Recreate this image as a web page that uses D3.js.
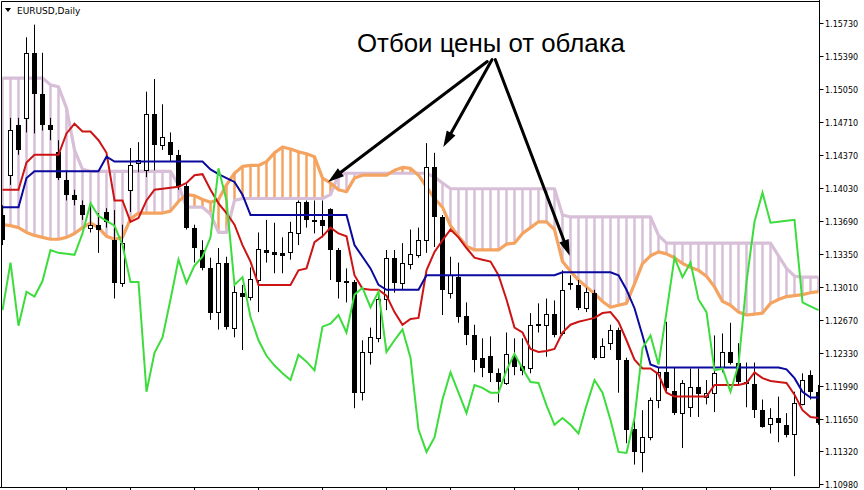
<!DOCTYPE html>
<html><head><meta charset="utf-8">
<script src="https://cdn.jsdelivr.net/npm/d3@7"></script>
<style>body{margin:0;background:#fff}svg{display:block}</style>
</head><body>
<svg id="c" width="864" height="490"></svg>
<script>
const symbolTitle = "EURUSD,Daily";
const annotationText = "Отбои цены от облака";
const priceTicks = [1.15730,1.15390,1.15050,1.14710,1.14370,1.14030,1.13690,1.13350,1.13010,1.12670,1.12330,1.11990,1.11650,1.11320,1.10980];
const timeTicks = [8,16,24,32,40,48,56,64,72,80,88,96];

const open = [1.1375,1.1416,1.1468,1.1475,1.1542,1.1500,1.1468,1.1440,1.1411,1.1396,
1.1385,1.1362,1.1365,1.1378,1.1349,1.1305,1.1401,1.1429,1.1421,1.1479,
1.1447,1.1450,1.1437,1.1405,1.1362,1.1339,1.1320,1.1275,1.1326,1.1259,
1.1295,1.1291,1.1308,1.1339,1.1337,1.1336,1.1337,1.1356,1.1388,1.1370,
1.1370,1.1381,1.1339,1.1307,1.1306,1.1193,1.1234,1.1248,1.1289,1.1331,
1.1305,1.1325,1.1334,1.1349,1.1424,1.1373,1.1295,1.1311,1.1271,1.1251,
1.1228,1.1230,1.1212,1.1202,1.1230,1.1220,1.1217,1.1263,1.1262,1.1273,
1.1253,1.1305,1.1303,1.1279,1.1295,1.1229,1.1243,1.1257,1.1226,1.1155,
1.1131,1.1146,1.1185,1.1213,1.1194,1.1171,1.1177,1.1198,1.1188,1.1192,
1.1218,1.1234,1.1223,1.1203,1.1201,1.1174,1.1160,1.1166,1.1159,1.1149,
1.1180,1.1210,1.1193];
const high = [1.1385,1.1475,1.1475,1.1558,1.1571,1.1542,1.1475,1.1452,1.1421,1.1401,
1.1390,1.1388,1.1377,1.1382,1.1380,1.1365,1.1444,1.1450,1.1502,1.1515,
1.1489,1.1460,1.1442,1.1408,1.1365,1.1349,1.1331,1.1341,1.1332,1.1303,
1.1303,1.1321,1.1357,1.1370,1.1367,1.1352,1.1368,1.1390,1.1390,1.1390,
1.1390,1.1382,1.1341,1.1320,1.1308,1.1246,1.1259,1.1298,1.1339,1.1339,
1.1346,1.1360,1.1362,1.1449,1.1439,1.1375,1.1332,1.1326,1.1285,1.1262,
1.1248,1.1250,1.1217,1.1254,1.1248,1.1248,1.1274,1.1284,1.1289,1.1287,
1.1318,1.1313,1.1308,1.1300,1.1298,1.1248,1.1262,1.1259,1.1228,1.1164,
1.1174,1.1187,1.1218,1.1265,1.1218,1.1205,1.1217,1.1217,1.1205,1.1251,
1.1253,1.1264,1.1243,1.1223,1.1223,1.1185,1.1176,1.1188,1.1171,1.1193,
1.1212,1.1215,1.1200];
const low = [1.1344,1.1406,1.1437,1.1460,1.1459,1.1462,1.1452,1.1411,1.1390,1.1385,
1.1370,1.1357,1.1336,1.1362,1.1289,1.1301,1.1378,1.1419,1.1414,1.1421,
1.1442,1.1430,1.1401,1.1360,1.1326,1.1318,1.1267,1.1257,1.1257,1.1249,
1.1236,1.1287,1.1275,1.1326,1.1315,1.1315,1.1329,1.1344,1.1362,1.1356,
1.1352,1.1308,1.1289,1.1285,1.1176,1.1184,1.1221,1.1244,1.1277,1.1295,
1.1298,1.1319,1.1331,1.1336,1.1342,1.1272,1.1289,1.1264,1.1241,1.1213,
1.1208,1.1203,1.1182,1.1200,1.1210,1.1210,1.1212,1.1254,1.1229,1.1249,
1.1251,1.1298,1.1277,1.1275,1.1226,1.1228,1.1236,1.1192,1.1140,1.1118,
1.1110,1.1143,1.1176,1.1192,1.1169,1.1135,1.1167,1.1167,1.1180,1.1172,
1.1213,1.1221,1.1200,1.1177,1.1166,1.1156,1.1150,1.1141,1.1146,1.1106,
1.1179,1.1185,1.1159];
const close = [1.1349,1.1462,1.1442,1.1542,1.1500,1.1468,1.1462,1.1413,1.1396,1.1390,
1.1375,1.1365,1.1360,1.1368,1.1305,1.1346,1.1426,1.1432,1.1479,1.1447,
1.1455,1.1437,1.1404,1.1362,1.1341,1.1320,1.1274,1.1326,1.1260,1.1296,
1.1291,1.1309,1.1340,1.1336,1.1334,1.1333,1.1357,1.1388,1.1370,1.1368,
1.1364,1.1339,1.1306,1.1305,1.1192,1.1234,1.1249,1.1289,1.1331,1.1305,
1.1326,1.1335,1.1349,1.1424,1.1373,1.1298,1.1313,1.1270,1.1251,1.1226,
1.1217,1.1212,1.1203,1.1232,1.1218,1.1214,1.1262,1.1261,1.1273,1.1251,
1.1298,1.1303,1.1279,1.1296,1.1228,1.1240,1.1257,1.1226,1.1154,1.1131,
1.1146,1.1185,1.1213,1.1197,1.1171,1.1202,1.1198,1.1191,1.1192,1.1212,
1.1234,1.1223,1.1203,1.1201,1.1174,1.1157,1.1166,1.1161,1.1148,1.1181,
1.1205,1.1193,1.1161];

const tenkan = [1.1401,1.1401,1.1401,1.1429,1.1437,1.1437,1.1437,1.1437,1.1459,1.1469,
1.1461,1.1461,1.1452,1.1439,1.1390,1.1390,1.1368,1.1372,1.1390,1.1401,
1.1402,1.1403,1.1404,1.1408,1.1416,1.1417,1.1401,1.1387,1.1377,1.1365,
1.1344,1.1327,1.1303,1.1303,1.1303,1.1303,1.1303,1.1318,1.1320,1.1347,
1.1353,1.1362,1.1356,1.1353,1.1313,1.1299,1.1298,1.1298,1.1292,1.1275,
1.1262,1.1268,1.1269,1.1318,1.1337,1.1349,1.1360,1.1352,1.1341,1.1331,
1.1329,1.1327,1.1313,1.1288,1.1259,1.1254,1.1237,1.1234,1.1235,1.1237,
1.1254,1.1262,1.1265,1.1267,1.1269,1.1274,1.1275,1.1265,1.1246,1.1226,
1.1217,1.1217,1.1211,1.1192,1.1188,1.1188,1.1188,1.1188,1.1188,1.1200,
1.1200,1.1200,1.1200,1.1202,1.1213,1.1207,1.1204,1.1203,1.1202,1.1190,
1.1174,1.1167,1.1166];
const kijun = [1.1383,1.1383,1.1383,1.1413,1.1420,1.1420,1.1420,1.1420,1.1420,1.1420,
1.1420,1.1420,1.1420,1.1435,1.1430,1.1430,1.1430,1.1430,1.1430,1.1430,
1.1430,1.1430,1.1430,1.1430,1.1430,1.1430,1.1422,1.1417,1.1413,1.1409,
1.1396,1.1375,1.1375,1.1375,1.1375,1.1375,1.1375,1.1375,1.1375,1.1375,
1.1375,1.1375,1.1375,1.1375,1.1344,1.1332,1.1320,1.1303,1.1298,1.1298,
1.1298,1.1298,1.1298,1.1313,1.1313,1.1313,1.1313,1.1313,1.1313,1.1313,
1.1313,1.1313,1.1313,1.1313,1.1313,1.1313,1.1313,1.1313,1.1313,1.1313,
1.1316,1.1316,1.1316,1.1316,1.1316,1.1316,1.1316,1.1313,1.1298,1.1279,
1.1251,1.1221,1.1218,1.1218,1.1218,1.1218,1.1218,1.1218,1.1218,1.1218,
1.1218,1.1218,1.1218,1.1218,1.1218,1.1218,1.1218,1.1218,1.1216,1.1207,
1.1193,1.1187,1.1187];
const chikou = [1.1277,1.1326,1.1261,1.1296,1.1291,1.1307,1.1339,1.1336,1.1335,1.1334,
1.1356,1.1387,1.1374,1.1369,1.1364,1.1344,1.1306,1.1306,1.1193,1.1233,
1.1249,1.1288,1.1329,1.1305,1.1323,1.1332,1.1352,1.1423,1.1390,1.1303,
1.1311,1.1270,1.1246,1.1230,1.1220,1.1212,1.1205,1.1231,1.1224,1.1215,
1.1260,1.1263,1.1272,1.1254,1.1293,1.1300,1.1280,1.1296,1.1234,1.1246,
1.1257,1.1228,1.1154,1.1131,1.1146,1.1185,1.1213,1.1192,1.1171,1.1200,
1.1197,1.1192,1.1192,1.1215,1.1232,1.1217,1.1203,1.1202,1.1179,1.1159,
1.1166,1.1159,1.1150,1.1179,1.1205,1.1192,1.1164,1.1131,1.1130,1.1166,
1.1238,1.1251,1.1221,1.1275,1.1331,1.1311,1.1326,1.1288,1.1275,1.1215,
1.1217,1.1193,1.1221,1.1306,1.1368,1.1398,1.1367,1.1368,1.1369,1.1370,
1.1285,1.1281,1.1277];
const spanA = [1.1365,1.1364,1.1362,1.1357,1.1354,1.1352,1.1350,1.1350,1.1352,1.1356,
1.1362,1.1367,1.1362,1.1353,1.1350,1.1352,1.1371,1.1377,1.1377,1.1377,
1.1377,1.1379,1.1389,1.1396,1.1395,1.1391,1.1388,1.1391,1.1406,1.1418,
1.1425,1.1426,1.1426,1.1430,1.1439,1.1445,1.1443,1.1440,1.1438,1.1435,
1.1413,1.1408,1.1401,1.1399,1.1413,1.1416,1.1416,1.1416,1.1416,1.1421,
1.1424,1.1423,1.1416,1.1404,1.1392,1.1383,1.1364,1.1353,1.1343,1.1339,
1.1339,1.1339,1.1339,1.1345,1.1346,1.1356,1.1362,1.1368,1.1368,1.1360,
1.1327,1.1317,1.1308,1.1301,1.1294,1.1286,1.1280,1.1282,1.1284,1.1304,
1.1325,1.1333,1.1337,1.1335,1.1331,1.1325,1.1321,1.1318,1.1312,1.1301,
1.1286,1.1282,1.1275,1.1272,1.1273,1.1274,1.1284,1.1288,1.1291,1.1292,
1.1293,1.1295,1.1296];
const spanB = [1.1516,1.1516,1.1516,1.1516,1.1516,1.1516,1.1509,1.1507,1.1485,1.1442,
1.1422,1.1420,1.1420,1.1420,1.1420,1.1420,1.1420,1.1420,1.1420,1.1420,
1.1420,1.1420,1.1406,1.1383,1.1383,1.1383,1.1376,1.1357,1.1357,1.1390,
1.1392,1.1392,1.1392,1.1392,1.1392,1.1392,1.1392,1.1392,1.1392,1.1392,
1.1392,1.1396,1.1416,1.1418,1.1418,1.1418,1.1418,1.1418,1.1418,1.1418,
1.1418,1.1418,1.1418,1.1418,1.1414,1.1408,1.1402,1.1402,1.1402,1.1402,
1.1402,1.1402,1.1402,1.1402,1.1402,1.1402,1.1402,1.1402,1.1402,1.1402,
1.1375,1.1373,1.1373,1.1373,1.1373,1.1373,1.1373,1.1373,1.1373,1.1373,
1.1373,1.1373,1.1354,1.1346,1.1346,1.1346,1.1346,1.1346,1.1346,1.1346,
1.1346,1.1346,1.1346,1.1346,1.1346,1.1346,1.1346,1.1333,1.1320,1.1312,
1.1311,1.1311,1.1311];

// annotation arrows: [barIndex, price] origin and tips
const arrowOrigins = [[60.6,1.1533],[61.2,1.1535],[61.6,1.1535]];
const arrowTips = [[40.7,1.1409],[55.1,1.1445],[70.9,1.1333]];

const svg = d3.select('#c');
const PL=1.5, PR=819.5, PT=1.5, PB=487.5;
const x = d3.scaleLinear().domain([0,102]).range([2.5,818.5]);
const y = d3.scaleLinear().domain([1.10980,1.15730]).range([484,22.7]);
const idx = d3.range(open.length);

svg.append('defs').append('clipPath').attr('id','clip')
  .append('rect').attr('x',PL).attr('y',PT).attr('width',PR-PL).attr('height',PB-PT);
const g = svg.append('g').attr('clip-path','url(#clip)');

// cloud hatch
g.append('g').selectAll('line').data(idx).join('line')
  .attr('x1',i=>x(i)).attr('x2',i=>x(i))
  .attr('y1',i=>y(spanA[i])).attr('y2',i=>y(spanB[i]))
  .attr('stroke',i=>spanA[i]>=spanB[i]?'#f4a460':'#d8bfd8')
  .attr('stroke-width',2.5);

const line = arr => d3.line().x((d,i)=>x(i)).y(d=>y(d))(arr);
g.append('path').attr('d',line(spanB)).attr('fill','none').attr('stroke','#d8bfd8').attr('stroke-width',3.2).attr('stroke-linejoin','round');
g.append('path').attr('d',line(spanA)).attr('fill','none').attr('stroke','#f4a460').attr('stroke-width',3.2).attr('stroke-linejoin','round');

// candles
const cg = g.append('g');
idx.forEach(i=>{
  const cx = x(i);
  cg.append('line').attr('x1',cx).attr('x2',cx).attr('y1',y(high[i])).attr('y2',y(low[i])).attr('stroke','#000').attr('stroke-width',1);
  const yo=y(open[i]), yc=y(close[i]);
  const top=Math.round(Math.min(yo,yc)), bot=Math.round(Math.max(yo,yc));
  if(close[i]>=open[i]){
    cg.append('rect').attr('x',cx-2).attr('y',top+0.5).attr('width',4).attr('height',Math.max(bot-top,1))
      .attr('fill','#fff').attr('stroke','#000').attr('stroke-width',1);
  } else {
    cg.append('rect').attr('x',cx-2.5).attr('y',top).attr('width',5).attr('height',Math.max(bot-top,1)).attr('fill','#000');
  }
});

// lines
g.append('path').attr('d',line(tenkan)).attr('fill','none').attr('stroke','#cc1414').attr('stroke-width',2);
g.append('path').attr('d',line(kijun)).attr('fill','none').attr('stroke','#0a0a9e').attr('stroke-width',2);
g.append('path').attr('d',line(chikou)).attr('fill','none').attr('stroke','#3ddc3d').attr('stroke-width',2);

// frame and axes
svg.append('line').attr('x1',PL).attr('x2',PR).attr('y1',PT).attr('y2',PT).attr('stroke','#000');
svg.append('line').attr('x1',PL).attr('x2',PL).attr('y1',PT).attr('y2',PB).attr('stroke','#000');
svg.append('line').attr('x1',PR).attr('x2',PR).attr('y1',0).attr('y2',PB).attr('stroke','#000');
svg.append('line').attr('x1',0).attr('x2',PR).attr('y1',PB).attr('y2',PB).attr('stroke','#000');

const ya = svg.append('g');
priceTicks.forEach(t=>{
  const ty=Math.round(y(t))+0.5;
  ya.append('line').attr('x1',PR).attr('x2',PR+4).attr('y1',ty).attr('y2',ty).attr('stroke','#000');
  ya.append('text').attr('x',825).attr('y',ty+3).text(t.toFixed(5))
    .attr('font-family','DejaVu Sans').attr('font-size',8).attr('fill','#000');
});
timeTicks.forEach(t=>{
  const tx=Math.round(x(t))-0.5+1;
  svg.append('line').attr('x1',x(t)).attr('x2',x(t)).attr('y1',PB).attr('y2',PB+4).attr('stroke','#000');
});

// title
svg.append('path').attr('d','M5,8 L11,8 L8,12 Z').attr('fill','#000');
svg.append('text').attr('x',17).attr('y',14).text(symbolTitle)
  .attr('font-family','DejaVu Sans').attr('font-size',9).attr('fill','#000');

// annotation text
const at = svg.append('text').attr('x',357).attr('y',52).text(annotationText)
  .attr('font-family','Liberation Sans').attr('font-size',25).attr('fill','#000');
const w = at.node().getComputedTextLength();
at.attr('font-size',25*268/w);

// arrows
arrowOrigins.forEach((o,k)=>{
  const x0=x(o[0]), y0=y(o[1]), x1=x(arrowTips[k][0]), y1=y(arrowTips[k][1]);
  const ang=Math.atan2(y1-y0,x1-x0), L=16, hw=5;
  const bx=x1-L*Math.cos(ang), by=y1-L*Math.sin(ang);
  svg.append('line').attr('x1',x0).attr('y1',y0).attr('x2',bx).attr('y2',by)
    .attr('stroke','#000').attr('stroke-width',3).attr('stroke-linecap','round');
  const p1=[bx+hw*Math.sin(ang), by-hw*Math.cos(ang)], p2=[bx-hw*Math.sin(ang), by+hw*Math.cos(ang)];
  svg.append('path').attr('d',`M${x1},${y1}L${p1[0]},${p1[1]}L${p2[0]},${p2[1]}Z`).attr('fill','#000');
});
</script>
</body></html>
